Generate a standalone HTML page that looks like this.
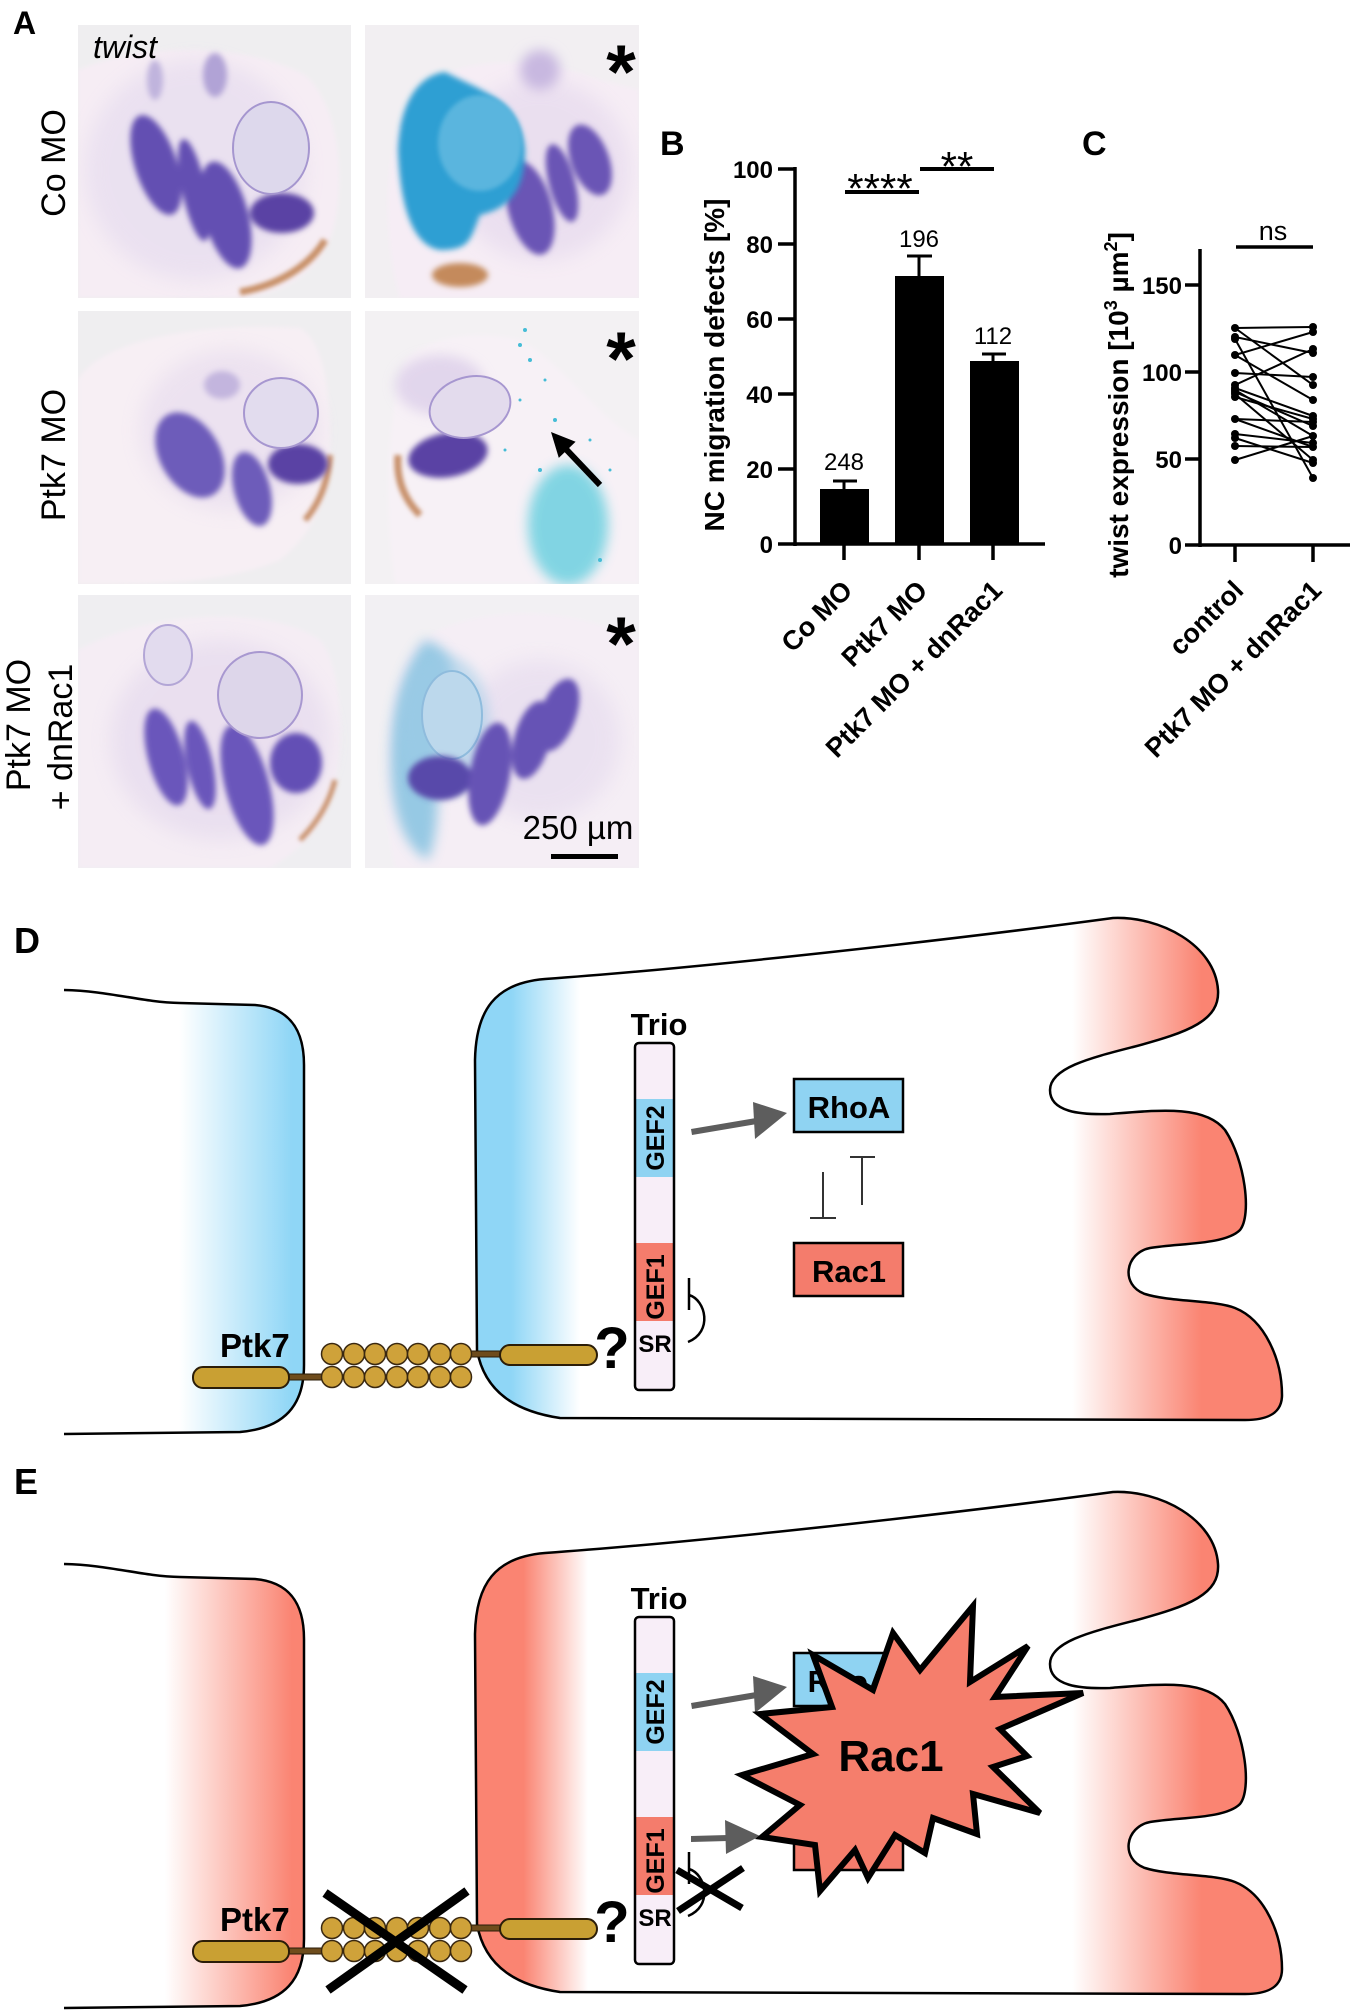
<!DOCTYPE html>
<html><head><meta charset="utf-8"><style>
html,body{margin:0;padding:0;background:#fff;}
svg{display:block;}
text{font-family:"Liberation Sans",Arial,sans-serif;}
</style></head><body>
<svg width="1354" height="2015" viewBox="0 0 1354 2015" xmlns="http://www.w3.org/2000/svg">
<defs>
<filter id="b2" x="-30%" y="-30%" width="160%" height="160%"><feGaussianBlur stdDeviation="2"/></filter>
<filter id="b3" x="-30%" y="-30%" width="160%" height="160%"><feGaussianBlur stdDeviation="3"/></filter>
<filter id="b6" x="-50%" y="-50%" width="200%" height="200%"><feGaussianBlur stdDeviation="6"/></filter>
<filter id="b10" x="-50%" y="-50%" width="200%" height="200%"><feGaussianBlur stdDeviation="10"/></filter>
<clipPath id="c1"><rect x="78" y="25" width="273" height="273"/></clipPath>
<clipPath id="c2"><rect x="365" y="25" width="274" height="273"/></clipPath>
<clipPath id="c3"><rect x="78" y="311" width="273" height="273"/></clipPath>
<clipPath id="c4"><rect x="365" y="311" width="274" height="273"/></clipPath>
<clipPath id="c5"><rect x="78" y="595" width="273" height="273"/></clipPath>
<clipPath id="c6"><rect x="365" y="595" width="274" height="273"/></clipPath>
<linearGradient id="gLD" gradientUnits="userSpaceOnUse" x1="64" y1="0" x2="304" y2="0">
<stop offset="0" stop-color="#fff"/><stop offset="0.48" stop-color="#fff"/><stop offset="0.95" stop-color="#8fd6f6"/><stop offset="1" stop-color="#8fd6f6"/></linearGradient>
<linearGradient id="gLE" gradientUnits="userSpaceOnUse" x1="64" y1="0" x2="304" y2="0">
<stop offset="0" stop-color="#fff"/><stop offset="0.42" stop-color="#fff"/><stop offset="0.95" stop-color="#fa8472"/><stop offset="1" stop-color="#fa8472"/></linearGradient>
<linearGradient id="gRD" gradientUnits="userSpaceOnUse" x1="475" y1="0" x2="1282" y2="0">
<stop offset="0" stop-color="#8fd6f6"/><stop offset="0.045" stop-color="#8fd6f6"/><stop offset="0.13" stop-color="#fff"/><stop offset="0.74" stop-color="#fff"/><stop offset="0.9" stop-color="#fa8472"/><stop offset="1" stop-color="#fa8472"/></linearGradient>
<linearGradient id="gRE" gradientUnits="userSpaceOnUse" x1="475" y1="0" x2="1282" y2="0">
<stop offset="0" stop-color="#fa8472"/><stop offset="0.06" stop-color="#fa8472"/><stop offset="0.14" stop-color="#fff"/><stop offset="0.74" stop-color="#fff"/><stop offset="0.9" stop-color="#fa8472"/><stop offset="1" stop-color="#fa8472"/></linearGradient>
</defs>

<!-- ================= PANEL A ================= -->
<text x="13" y="34" font-size="32" font-weight="bold">A</text>

<!-- photo 1 -->
<g clip-path="url(#c1)">
<rect x="78" y="25" width="273" height="273" fill="#efeef0"/>
<path d="M78 70 C150 40 250 45 305 75 C345 110 345 200 330 240 C315 275 280 295 240 298 L78 298 Z" fill="#f6edf4" filter="url(#b2)"/>
<ellipse cx="195" cy="170" rx="110" ry="110" fill="#d6cbea" opacity="0.35" filter="url(#b10)"/>
<path d="M240 292 C280 285 310 265 325 240" stroke="#c89068" stroke-width="7" fill="none" filter="url(#b2)"/>
<g fill="#6450b2" filter="url(#b3)">
<ellipse cx="156" cy="165" rx="21" ry="52" transform="rotate(-18 156 165)"/>
<ellipse cx="194" cy="190" rx="12" ry="52" transform="rotate(-12 194 190)"/>
<ellipse cx="226" cy="215" rx="22" ry="55" transform="rotate(-15 226 215)"/>
<ellipse cx="282" cy="213" rx="32" ry="20" fill="#5a42a4"/>
</g>
<ellipse cx="271" cy="148" rx="38" ry="46" fill="#ddd8ec" stroke="#a596cf" stroke-width="2"/>
<ellipse cx="215" cy="75" rx="12" ry="22" fill="#b1a3d6" filter="url(#b3)"/>
<ellipse cx="155" cy="80" rx="8" ry="20" fill="#c0b4dd" filter="url(#b3)"/>
</g>
<text x="93" y="58" font-size="32" font-style="italic">twist</text>

<!-- photo 2 -->
<g clip-path="url(#c2)">
<rect x="365" y="25" width="274" height="273" fill="#f2eff2"/>
<path d="M400 298 C385 250 380 150 410 100 C440 60 520 50 600 80 L639 90 L639 298 Z" fill="#f6edf5" filter="url(#b2)"/>
<ellipse cx="540" cy="170" rx="90" ry="90" fill="#d6c6e6" opacity="0.35" filter="url(#b10)"/>
<g fill="#6a55b5" filter="url(#b3)">
<ellipse cx="530" cy="208" rx="22" ry="48" transform="rotate(-15 530 208)"/>
<ellipse cx="562" cy="183" rx="13" ry="40" transform="rotate(-15 562 183)"/>
<ellipse cx="590" cy="160" rx="19" ry="37" transform="rotate(-20 590 160)"/>
</g>
<path d="M398 150 C400 100 420 75 445 72 C480 90 520 100 525 150 C525 200 500 210 480 215 C470 240 470 250 440 250 C410 245 400 200 398 150Z" fill="#2d9fd3" filter="url(#b3)"/>
<ellipse cx="480" cy="143" rx="42" ry="48" fill="#5ab5de" filter="url(#b2)"/>
<ellipse cx="460" cy="275" rx="28" ry="12" fill="#c48a5c" filter="url(#b3)"/>
<ellipse cx="540" cy="70" rx="20" ry="20" fill="#c8b8e0" filter="url(#b6)"/>
</g>
<text x="621" y="98" font-size="76" font-weight="bold" text-anchor="middle">*</text>

<!-- photo 3 -->
<g clip-path="url(#c3)">
<rect x="78" y="311" width="273" height="273" fill="#efeef0"/>
<path d="M78 380 C100 340 200 322 300 328 C330 345 332 420 329 470 C325 510 305 540 280 560 C220 585 150 584 78 584 Z" fill="#f7eff4" filter="url(#b2)"/>
<ellipse cx="230" cy="430" rx="90" ry="80" fill="#d9cbe9" opacity="0.35" filter="url(#b10)"/>
<path d="M305 520 C318 505 328 485 330 455" stroke="#c8906a" stroke-width="6" fill="none" filter="url(#b2)"/>
<g fill="#6d5bba" filter="url(#b3)">
<ellipse cx="190" cy="455" rx="30" ry="46" transform="rotate(-30 190 455)"/>
<ellipse cx="252" cy="489" rx="18" ry="38" transform="rotate(-15 252 489)"/>
<ellipse cx="298" cy="464" rx="30" ry="20" fill="#5a42a4"/>
</g>
<ellipse cx="222" cy="385" rx="18" ry="14" fill="#c3b5de" filter="url(#b3)"/>
<ellipse cx="281" cy="413" rx="37" ry="35" fill="#e2dcee" stroke="#a797d0" stroke-width="2"/>
</g>

<!-- photo 4 -->
<g clip-path="url(#c4)">
<rect x="365" y="311" width="274" height="273" fill="#f3f1f3"/>
<path d="M395 584 C385 520 385 420 405 360 C430 335 480 330 520 340 C560 360 600 420 639 440 L639 584 Z" fill="#f7f1f6" filter="url(#b2)"/>
<path d="M398 455 C396 480 405 500 420 515" stroke="#c8906a" stroke-width="7" fill="none" filter="url(#b2)"/>
<ellipse cx="440" cy="385" rx="45" ry="30" fill="#d9cbe8" opacity="0.7" filter="url(#b6)"/>
<ellipse cx="448" cy="455" rx="40" ry="22" transform="rotate(-10 448 455)" fill="#5a42a4" filter="url(#b3)"/>
<ellipse cx="470" cy="407" rx="41" ry="30" transform="rotate(-15 470 407)" fill="#e3dbed" stroke="#a797d0" stroke-width="2"/>
<ellipse cx="568" cy="525" rx="40" ry="60" fill="#6dd0e0" opacity="0.85" filter="url(#b6)"/>
<g fill="#45bcd6">
<circle cx="520" cy="345" r="2"/><circle cx="530" cy="360" r="2"/><circle cx="520" cy="400" r="1.5"/><circle cx="555" cy="420" r="2"/><circle cx="590" cy="440" r="1.5"/><circle cx="540" cy="470" r="2"/><circle cx="610" cy="470" r="1.5"/><circle cx="525" cy="330" r="2"/><circle cx="600" cy="560" r="2"/><circle cx="545" cy="380" r="1.5"/><circle cx="505" cy="450" r="1.5"/>
</g>
</g>
<text x="621" y="385" font-size="76" font-weight="bold" text-anchor="middle">*</text>
<line x1="600" y1="485" x2="563" y2="446" stroke="#000" stroke-width="6"/>
<polygon points="551,432 575.6,441.7 558.8,457.9" fill="#000"/>

<!-- photo 5 -->
<g clip-path="url(#c5)">
<rect x="78" y="595" width="273" height="273" fill="#efeef1"/>
<path d="M78 650 C150 610 270 605 320 640 C345 670 345 760 330 800 C320 830 300 850 270 868 L78 868 Z" fill="#f5edf4" filter="url(#b2)"/>
<ellipse cx="220" cy="740" rx="110" ry="100" fill="#d6c8e8" opacity="0.35" filter="url(#b10)"/>
<ellipse cx="168" cy="655" rx="24" ry="30" fill="#e2dbee" stroke="#b3a6d6" stroke-width="2"/>
<g fill="#6b57bb" filter="url(#b3)">
<ellipse cx="166" cy="757" rx="18" ry="50" transform="rotate(-15 166 757)"/>
<ellipse cx="200" cy="765" rx="13" ry="45" transform="rotate(-12 200 765)"/>
<ellipse cx="247" cy="785" rx="22" ry="62" transform="rotate(-15 247 785)"/>
<ellipse cx="296" cy="763" rx="26" ry="30" fill="#6450b5"/>
</g>
<ellipse cx="260" cy="695" rx="42" ry="43" fill="#ddd6ea" stroke="#a898d0" stroke-width="2"/>
<path d="M300 840 C320 820 330 800 335 780" stroke="#c8906a" stroke-width="5" fill="none" filter="url(#b2)"/>
</g>

<!-- photo 6 -->
<g clip-path="url(#c6)">
<rect x="365" y="595" width="274" height="273" fill="#f2f0f3"/>
<path d="M395 868 C380 800 380 700 410 650 C450 610 540 605 600 625 L639 640 L639 868 Z" fill="#f5eef5" filter="url(#b2)"/>
<ellipse cx="540" cy="740" rx="80" ry="80" fill="#d8cae8" opacity="0.35" filter="url(#b10)"/>
<path d="M425 640 C398 670 386 730 392 790 C398 830 410 850 428 860 C445 820 432 760 445 720 C455 680 460 650 425 640 Z" fill="#7fc0e0" opacity="0.8" filter="url(#b6)"/>
<ellipse cx="445" cy="725" rx="45" ry="70" fill="#9ccbe6" opacity="0.55" filter="url(#b6)"/>
<ellipse cx="452" cy="715" rx="30" ry="44" fill="#bcd8ec" stroke="#8fbcdd" stroke-width="2"/>
<g fill="#6652b5" filter="url(#b3)">
<ellipse cx="440" cy="778" rx="32" ry="22" fill="#5848aa"/>
<ellipse cx="490" cy="774" rx="20" ry="52" transform="rotate(10 490 774)"/>
<ellipse cx="532" cy="740" rx="18" ry="40" transform="rotate(15 532 740)"/>
<ellipse cx="558" cy="715" rx="18" ry="38" transform="rotate(20 558 715)"/>
</g>
</g>
<text x="621" y="670" font-size="76" font-weight="bold" text-anchor="middle">*</text>
<text x="578" y="839" font-size="33" text-anchor="middle">250 µm</text>
<rect x="551" y="854" width="67" height="5" fill="#000"/>

<!-- row labels -->
<text transform="translate(65,163) rotate(-90)" font-size="34" text-anchor="middle">Co MO</text>
<text transform="translate(65,455) rotate(-90)" font-size="34" text-anchor="middle">Ptk7 MO</text>
<text transform="translate(30,725) rotate(-90)" font-size="34" text-anchor="middle">Ptk7 MO</text>
<text transform="translate(72,737) rotate(-90)" font-size="34" text-anchor="middle">+ dnRac1</text>

<!-- ================= PANEL B ================= -->
<text x="660" y="155" font-size="34" font-weight="bold">B</text>
<text transform="translate(724,365) rotate(-90)" font-size="28" font-weight="bold" text-anchor="middle">NC migration defects [%]</text>
<g stroke="#000" stroke-width="3.5" fill="none">
<line x1="795" y1="167" x2="795" y2="546"/>
<line x1="778" y1="544" x2="1045" y2="544"/>
<line x1="778" y1="169" x2="795" y2="169"/>
<line x1="778" y1="244" x2="795" y2="244"/>
<line x1="778" y1="319" x2="795" y2="319"/>
<line x1="778" y1="394" x2="795" y2="394"/>
<line x1="778" y1="469" x2="795" y2="469"/>
<line x1="844" y1="544" x2="844" y2="560"/>
<line x1="919" y1="544" x2="919" y2="560"/>
<line x1="993" y1="544" x2="993" y2="560"/>
</g>
<g font-size="24" font-weight="bold" text-anchor="end">
<text x="773" y="178">100</text><text x="773" y="253">80</text><text x="773" y="328">60</text><text x="773" y="403">40</text><text x="773" y="478">20</text><text x="773" y="553">0</text>
</g>
<rect x="820" y="489" width="49" height="55" fill="#000"/>
<rect x="895" y="276" width="49" height="268" fill="#000"/>
<rect x="970" y="361" width="49" height="183" fill="#000"/>
<g stroke="#000" stroke-width="3">
<line x1="844" y1="489" x2="844" y2="481"/><line x1="833" y1="481" x2="857" y2="481"/>
<line x1="919" y1="276" x2="919" y2="256"/><line x1="907" y1="256" x2="932" y2="256"/>
<line x1="993" y1="361" x2="993" y2="354"/><line x1="982" y1="354" x2="1006" y2="354"/>
</g>
<g font-size="24" text-anchor="middle">
<text x="844" y="470">248</text><text x="919" y="247">196</text><text x="993" y="344">112</text>
</g>
<g stroke="#000" stroke-width="4">
<line x1="845" y1="192" x2="919" y2="192"/>
<line x1="920" y1="169" x2="994" y2="169"/>
</g>
<text x="880" y="203" font-size="42" text-anchor="middle">****</text>
<text x="957" y="181" font-size="42" text-anchor="middle">**</text>
<g font-size="27" font-weight="bold" text-anchor="end">
<text transform="translate(854,592) rotate(-45)">Co MO</text>
<text transform="translate(929,592) rotate(-45)">Ptk7 MO</text>
<text transform="translate(1004,592) rotate(-45)">Ptk7 MO + dnRac1</text>
</g>

<!-- ================= PANEL C ================= -->
<text x="1082" y="155" font-size="34" font-weight="bold">C</text>
<text transform="translate(1128,405) rotate(-90)" font-size="28" font-weight="bold" text-anchor="middle">twist expression [10<tspan font-size="18" dy="-11">3</tspan><tspan dy="11"> µm</tspan><tspan font-size="18" dy="-11">2</tspan><tspan dy="11">]</tspan></text>
<g stroke="#000" stroke-width="3.5" fill="none">
<line x1="1200" y1="249" x2="1200" y2="547"/>
<line x1="1185" y1="545" x2="1350" y2="545"/>
<line x1="1185" y1="285" x2="1200" y2="285"/>
<line x1="1185" y1="372" x2="1200" y2="372"/>
<line x1="1185" y1="459" x2="1200" y2="459"/>
<line x1="1235" y1="545" x2="1235" y2="562"/>
<line x1="1313" y1="545" x2="1313" y2="562"/>
<line x1="1236" y1="247" x2="1313" y2="247"/>
</g>
<g font-size="24" font-weight="bold" text-anchor="end">
<text x="1182" y="294">150</text><text x="1182" y="381">100</text><text x="1182" y="468">50</text><text x="1182" y="554">0</text>
</g>
<text x="1273" y="240" font-size="27" text-anchor="middle">ns</text>
<g stroke="#000" stroke-width="2">
<line x1="1235" y1="328" x2="1313" y2="327"/><line x1="1235" y1="328" x2="1313" y2="385"/>
<line x1="1235" y1="337" x2="1313" y2="353"/><line x1="1235" y1="339" x2="1313" y2="478"/>
<line x1="1235" y1="355" x2="1313" y2="332"/><line x1="1235" y1="355" x2="1313" y2="400"/>
<line x1="1235" y1="373" x2="1313" y2="377"/><line x1="1235" y1="385" x2="1313" y2="349"/>
<line x1="1235" y1="388" x2="1313" y2="416"/><line x1="1235" y1="390" x2="1313" y2="436"/>
<line x1="1235" y1="392" x2="1313" y2="426"/><line x1="1235" y1="394" x2="1313" y2="460"/>
<line x1="1235" y1="397" x2="1313" y2="419"/><line x1="1235" y1="419" x2="1313" y2="422"/>
<line x1="1235" y1="419" x2="1313" y2="447"/><line x1="1235" y1="434" x2="1313" y2="443"/>
<line x1="1235" y1="438" x2="1313" y2="463"/><line x1="1235" y1="446" x2="1313" y2="447"/>
<line x1="1235" y1="460" x2="1313" y2="436"/>
</g>
<g fill="#000">
<circle cx="1235" cy="328" r="4"/><circle cx="1235" cy="337" r="4"/><circle cx="1235" cy="339" r="4"/><circle cx="1235" cy="355" r="4"/><circle cx="1235" cy="373" r="4"/><circle cx="1235" cy="385" r="4"/><circle cx="1235" cy="388" r="4"/><circle cx="1235" cy="390" r="4"/><circle cx="1235" cy="392" r="4"/><circle cx="1235" cy="394" r="4"/><circle cx="1235" cy="397" r="4"/><circle cx="1235" cy="419" r="4"/><circle cx="1235" cy="434" r="4"/><circle cx="1235" cy="438" r="4"/><circle cx="1235" cy="446" r="4"/><circle cx="1235" cy="460" r="4"/>
<circle cx="1313" cy="327" r="4"/><circle cx="1313" cy="332" r="4"/><circle cx="1313" cy="349" r="4"/><circle cx="1313" cy="353" r="4"/><circle cx="1313" cy="377" r="4"/><circle cx="1313" cy="385" r="4"/><circle cx="1313" cy="400" r="4"/><circle cx="1313" cy="416" r="4"/><circle cx="1313" cy="419" r="4"/><circle cx="1313" cy="422" r="4"/><circle cx="1313" cy="426" r="4"/><circle cx="1313" cy="436" r="4"/><circle cx="1313" cy="443" r="4"/><circle cx="1313" cy="447" r="4"/><circle cx="1313" cy="460" r="4"/><circle cx="1313" cy="463" r="4"/><circle cx="1313" cy="478" r="4"/>
</g>
<g font-size="27" font-weight="bold" text-anchor="end">
<text transform="translate(1245,592) rotate(-45)">control</text>
<text transform="translate(1323,592) rotate(-45)">Ptk7 MO + dnRac1</text>
</g>

<!-- ================= PANEL D ================= -->
<text x="14" y="953" font-size="36" font-weight="bold">D</text>
<path d="M64 990 C110 991 140 1002 180 1003 L255 1005 C290 1008 304 1030 304 1065 L304 1365 C304 1405 285 1428 240 1432 L64 1434 Z" fill="url(#gLD)"/>
<path d="M64 990 C110 991 140 1002 180 1003 L255 1005 C290 1008 304 1030 304 1065 L304 1365 C304 1405 285 1428 240 1432 L64 1434" fill="none" stroke="#000" stroke-width="2.5"/>
<path d="M475 1060 C476 1010 495 983 545 979 C700 968 950 940 1113 918 C1160 916 1215 945 1218 990 C1220 1020 1190 1032 1133 1047 C1090 1058 1050 1068 1050 1090 C1050 1112 1080 1115 1110 1114 C1160 1110 1205 1105 1225 1130 C1245 1160 1252 1215 1240 1230 C1225 1245 1180 1243 1150 1248 C1125 1253 1120 1285 1145 1294 C1170 1302 1215 1300 1235 1308 C1265 1320 1282 1360 1282 1395 C1282 1412 1270 1420 1245 1420 L560 1418 C520 1412 485 1395 477 1350 Z" fill="url(#gRD)" stroke="#000" stroke-width="2.5"/>
<text x="220" y="1357" font-size="33" font-weight="bold">Ptk7</text>
<rect x="289" y="1374" width="36" height="6" fill="#6e4c1c" stroke="#2b1d08" stroke-width="1"/>
<rect x="466" y="1351" width="36" height="6" fill="#6e4c1c" stroke="#2b1d08" stroke-width="1"/>
<rect x="193" y="1367" width="96" height="21" rx="10" fill="#c9a033" stroke="#2b1d08" stroke-width="2"/>
<rect x="500" y="1345" width="97" height="20" rx="10" fill="#c9a033" stroke="#2b1d08" stroke-width="2"/>
<g fill="#cfa23a" stroke="#3a2810" stroke-width="1.5">
<circle cx="332" cy="1354" r="10.5"/><circle cx="354" cy="1354" r="10.5"/><circle cx="375" cy="1354" r="10.5"/><circle cx="397" cy="1354" r="10.5"/><circle cx="418" cy="1354" r="10.5"/><circle cx="440" cy="1354" r="10.5"/><circle cx="461" cy="1354" r="10.5"/>
<circle cx="332" cy="1377" r="10.5"/><circle cx="354" cy="1377" r="10.5"/><circle cx="375" cy="1377" r="10.5"/><circle cx="397" cy="1377" r="10.5"/><circle cx="418" cy="1377" r="10.5"/><circle cx="440" cy="1377" r="10.5"/><circle cx="461" cy="1377" r="10.5"/>
</g>
<text x="612" y="1368" font-size="58" font-weight="bold" text-anchor="middle">?</text>
<text x="659" y="1035" font-size="31" font-weight="bold" text-anchor="middle">Trio</text>
<rect x="635" y="1043" width="39" height="347" rx="4" fill="#f8eef8"/>
<rect x="635" y="1099" width="39" height="78" fill="#8fd3f2"/>
<rect x="635" y="1243" width="39" height="78" fill="#f47c6c"/>
<rect x="635" y="1043" width="39" height="347" rx="4" fill="none" stroke="#000" stroke-width="2.5"/>
<text transform="translate(664,1138) rotate(-90)" font-size="25" font-weight="bold" text-anchor="middle">GEF2</text>
<text transform="translate(664,1287) rotate(-90)" font-size="25" font-weight="bold" text-anchor="middle">GEF1</text>
<text x="655" y="1352" font-size="24" font-weight="bold" text-anchor="middle">SR</text>
<path d="M689 1278 L689 1310 M689 1295 C706 1300 713 1332 688 1342" fill="none" stroke="#000" stroke-width="2.5"/>
<polygon points="691,1129 756,1118 757,1124 692,1135" fill="#5d5d5d"/>
<polygon points="753,1102 787,1113 755,1139" fill="#5d5d5d"/>
<rect x="794" y="1079" width="109" height="53" fill="#8fd3f2" stroke="#000" stroke-width="2.5"/>
<text x="849" y="1118" font-size="31" font-weight="bold" text-anchor="middle">RhoA</text>
<rect x="794" y="1243" width="109" height="53" fill="#f47c6c" stroke="#000" stroke-width="2.5"/>
<text x="849" y="1282" font-size="31" font-weight="bold" text-anchor="middle">Rac1</text>
<g stroke="#333" stroke-width="2">
<line x1="823" y1="1172" x2="823" y2="1218"/><line x1="810" y1="1218" x2="836" y2="1218"/>
<line x1="862" y1="1157" x2="862" y2="1205"/><line x1="850" y1="1157" x2="875" y2="1157"/>
</g>

<!-- ================= PANEL E ================= -->
<text x="14" y="1494" font-size="36" font-weight="bold">E</text>
<g transform="translate(0,574)">
<path d="M64 990 C110 991 140 1002 180 1003 L255 1005 C290 1008 304 1030 304 1065 L304 1365 C304 1405 285 1428 240 1432 L64 1434 Z" fill="url(#gLE)"/>
<path d="M64 990 C110 991 140 1002 180 1003 L255 1005 C290 1008 304 1030 304 1065 L304 1365 C304 1405 285 1428 240 1432 L64 1434" fill="none" stroke="#000" stroke-width="2.5"/>
<path d="M475 1060 C476 1010 495 983 545 979 C700 968 950 940 1113 918 C1160 916 1215 945 1218 990 C1220 1020 1190 1032 1133 1047 C1090 1058 1050 1068 1050 1090 C1050 1112 1080 1115 1110 1114 C1160 1110 1205 1105 1225 1130 C1245 1160 1252 1215 1240 1230 C1225 1245 1180 1243 1150 1248 C1125 1253 1120 1285 1145 1294 C1170 1302 1215 1300 1235 1308 C1265 1320 1282 1360 1282 1395 C1282 1412 1270 1420 1245 1420 L560 1418 C520 1412 485 1395 477 1350 Z" fill="url(#gRE)" stroke="#000" stroke-width="2.5"/>
<text x="220" y="1357" font-size="33" font-weight="bold">Ptk7</text>
<rect x="289" y="1374" width="36" height="6" fill="#6e4c1c" stroke="#2b1d08" stroke-width="1"/>
<rect x="466" y="1351" width="36" height="6" fill="#6e4c1c" stroke="#2b1d08" stroke-width="1"/>
<rect x="193" y="1367" width="96" height="21" rx="10" fill="#c9a033" stroke="#2b1d08" stroke-width="2"/>
<rect x="500" y="1345" width="97" height="20" rx="10" fill="#c9a033" stroke="#2b1d08" stroke-width="2"/>
<g fill="#cfa23a" stroke="#3a2810" stroke-width="1.5">
<circle cx="332" cy="1354" r="10.5"/><circle cx="354" cy="1354" r="10.5"/><circle cx="375" cy="1354" r="10.5"/><circle cx="397" cy="1354" r="10.5"/><circle cx="418" cy="1354" r="10.5"/><circle cx="440" cy="1354" r="10.5"/><circle cx="461" cy="1354" r="10.5"/>
<circle cx="332" cy="1377" r="10.5"/><circle cx="354" cy="1377" r="10.5"/><circle cx="375" cy="1377" r="10.5"/><circle cx="397" cy="1377" r="10.5"/><circle cx="418" cy="1377" r="10.5"/><circle cx="440" cy="1377" r="10.5"/><circle cx="461" cy="1377" r="10.5"/>
</g>
<text x="612" y="1368" font-size="58" font-weight="bold" text-anchor="middle">?</text>
<text x="659" y="1035" font-size="31" font-weight="bold" text-anchor="middle">Trio</text>
<rect x="635" y="1043" width="39" height="347" rx="4" fill="#f8eef8"/>
<rect x="635" y="1099" width="39" height="78" fill="#8fd3f2"/>
<rect x="635" y="1243" width="39" height="78" fill="#f47c6c"/>
<rect x="635" y="1043" width="39" height="347" rx="4" fill="none" stroke="#000" stroke-width="2.5"/>
<text transform="translate(664,1138) rotate(-90)" font-size="25" font-weight="bold" text-anchor="middle">GEF2</text>
<text transform="translate(664,1287) rotate(-90)" font-size="25" font-weight="bold" text-anchor="middle">GEF1</text>
<text x="655" y="1352" font-size="24" font-weight="bold" text-anchor="middle">SR</text>
<path d="M689 1278 L689 1310 M689 1295 C706 1300 713 1332 688 1342" fill="none" stroke="#000" stroke-width="2.5"/>
<polygon points="691,1129 756,1118 757,1124 692,1135" fill="#5d5d5d"/>
<polygon points="753,1102 787,1113 755,1139" fill="#5d5d5d"/>
<polygon points="691,1262 728,1261 728,1267 691,1268" fill="#5d5d5d"/>
<polygon points="725,1246 760,1262 726,1280" fill="#5d5d5d"/>
<rect x="794" y="1079" width="109" height="53" fill="#8fd3f2" stroke="#000" stroke-width="2.5"/>
<text x="849" y="1118" font-size="31" font-weight="bold" text-anchor="middle">RhoA</text>
<rect x="794" y="1243" width="109" height="53" fill="#f47c6c" stroke="#000" stroke-width="2.5"/>
<text x="849" y="1282" font-size="31" font-weight="bold" text-anchor="middle">Rac1</text>
</g>
<g stroke="#000" stroke-width="9" stroke-linecap="butt">
<line x1="325" y1="1893" x2="465" y2="1990"/>
<line x1="328" y1="1990" x2="467" y2="1891"/>
</g>
<g stroke="#000" stroke-width="7">
<line x1="677" y1="1870" x2="742" y2="1908"/>
<line x1="678" y1="1911" x2="743" y2="1868"/>
</g>
<polygon points="813,1655 873,1690 893,1633 920,1670 973,1606 970,1682 1028,1646 995,1697 1083,1693 1000,1729 1027,1756 993,1767 1040,1813 973,1794 977,1834 933,1818 925,1853 895,1835 868,1878 855,1850 820,1891 815,1845 762,1837 800,1805 742,1775 813,1754 760,1714 832,1707" fill="#f57e6c" stroke="#000" stroke-width="6" stroke-linejoin="miter"/>
<text x="891" y="1771" font-size="44" font-weight="bold" text-anchor="middle">Rac1</text>
</svg>
</body></html>
